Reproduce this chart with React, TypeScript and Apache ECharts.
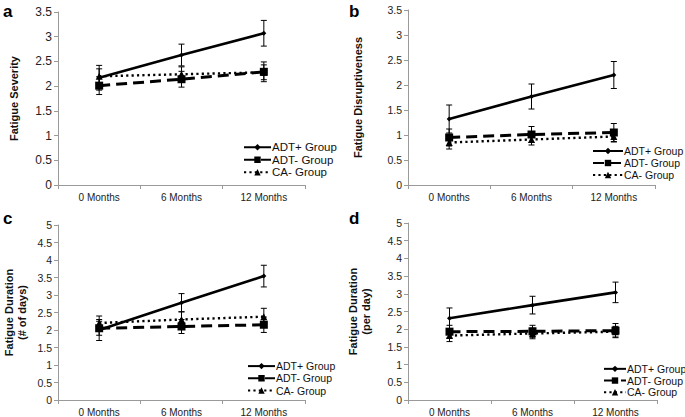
import React, { useEffect, useRef } from "react";
import * as echarts from "echarts";

const categories = ["0 Months", "6 Months", "12 Months"];
const seriesNames = ["ADT+ Group", "ADT- Group", "CA- Group"];

// Panel a: Fatigue Severity
const adtPlusA = [2.17, 2.63, 3.07];
const adtPlusAErr = [0.25, 0.22, 0.26];
const adtMinusA = [2.01, 2.14, 2.29];
const adtMinusAErr = [0.18, 0.16, 0.2];
const caA = [2.2, 2.24, 2.28];
const caAErr = [0.15, 0.15, 0.15];

// Panel b: Fatigue Disruptiveness
const adtPlusB = [1.32, 1.77, 2.2];
const adtPlusBErr = [0.28, 0.25, 0.27];
const adtMinusB = [0.95, 1.01, 1.05];
const adtMinusBErr = [0.17, 0.16, 0.18];
const caB = [0.85, 0.91, 0.97];
const caBErr = [0.13, 0.11, 0.11];

// Panel c: Fatigue Duration (# of days)
const adtPlusC = [2.0, 2.78, 3.54];
const adtPlusCErr = [0.3, 0.26, 0.31];
const adtMinusC = [2.05, 2.1, 2.15];
const adtMinusCErr = [0.2, 0.2, 0.22];
const caC = [2.2, 2.3, 2.38];
const caCErr = [0.2, 0.22, 0.24];

// Panel d: Fatigue Duration (per day)
const adtPlusD = [2.31, 2.68, 3.04];
const adtPlusDErr = [0.29, 0.25, 0.29];
const adtMinusD = [1.93, 1.94, 1.96];
const adtMinusDErr = [0.18, 0.17, 0.2];
const caD = [1.82, 1.88, 1.93];
const caDErr = [0.17, 0.15, 0.15];

const FONT = "'Liberation Sans', Arial, sans-serif";

type Panel = {
  letter: string;
  title: string;
  max: number;
  grid: { left: number; top: number; width: number; height: number };
  nameGap: number;
  tickFont: number;
  lines: number[][];
  errs: number[][];
  legend: { left: number; top: number; itemWidth: number; fontSize: number; lineHeight: number };
  letterPos: [number, number];
};

const panels: Panel[] = [
  {
    letter: "a",
    title: "Fatigue Severity",
    max: 3.5,
    grid: { left: 58, top: 12, width: 247, height: 173 },
    nameGap: 38,
    tickFont: 12,
    lines: [adtPlusA, adtMinusA, caA],
    errs: [adtPlusAErr, adtMinusAErr, caAErr],
    legend: { left: 243, top: 141, itemWidth: 27, fontSize: 11.5, lineHeight: 12.5 },
    letterPos: [3, 3],
  },
  {
    letter: "b",
    title: "Fatigue Disruptiveness",
    max: 3.5,
    grid: { left: 408, top: 10, width: 247, height: 175 },
    nameGap: 44,
    tickFont: 10.5,
    lines: [adtPlusB, adtMinusB, caB],
    errs: [adtPlusBErr, adtMinusBErr, caBErr],
    legend: { left: 592, top: 145, itemWidth: 30, fontSize: 10.5, lineHeight: 12 },
    letterPos: [349, 3],
  },
  {
    letter: "c",
    title: "Fatigue Duration\n(# of days)",
    max: 5,
    grid: { left: 58, top: 225, width: 247, height: 175 },
    nameGap: 30,
    tickFont: 10.5,
    lines: [adtPlusC, adtMinusC, caC],
    errs: [adtPlusCErr, adtMinusCErr, caCErr],
    legend: { left: 247, top: 360, itemWidth: 27, fontSize: 10.5, lineHeight: 12.2 },
    letterPos: [3, 210],
  },
  {
    letter: "d",
    title: "Fatigue Duration\n(per day)",
    max: 5,
    grid: { left: 408, top: 223, width: 249, height: 177 },
    nameGap: 36,
    tickFont: 10.5,
    lines: [adtPlusD, adtMinusD, caD],
    errs: [adtPlusDErr, adtMinusDErr, caDErr],
    legend: { left: 603, top: 363, itemWidth: 22, fontSize: 10.5, lineHeight: 11.7 },
    letterPos: [349, 210],
  },
];

const lineStyles: any[] = [
  { type: "solid", width: 2.6 },
  { type: [11, 6], width: 3 },
  { type: [2.2, 3.2], width: 2.4 },
];
const symbols = ["diamond", "rect", "triangle"];
const symbolSizes = [5, 8, 7];

function errorRender(params: any, api: any) {
  const x = api.value(0);
  const lo = api.value(1);
  const hi = api.value(2);
  const top = api.coord([x, hi]);
  const bot = api.coord([x, lo]);
  const cap = 3;
  const st = { stroke: "#000", lineWidth: 1 };
  return {
    type: "group",
    children: [
      { type: "line", shape: { x1: top[0], y1: top[1], x2: bot[0], y2: bot[1] }, style: st },
      { type: "line", shape: { x1: top[0] - cap, y1: top[1], x2: top[0] + cap, y2: top[1] }, style: st },
      { type: "line", shape: { x1: bot[0] - cap, y1: bot[1], x2: bot[0] + cap, y2: bot[1] }, style: st },
    ],
  };
}

export default function App() {
  const ref = useRef<HTMLDivElement>(null);
  useEffect(() => {
    if (!ref.current) return;
    const chart = echarts.init(ref.current, undefined, { renderer: "svg" });
    const grids: any[] = [];
    const xAxes: any[] = [];
    const yAxes: any[] = [];
    const series: any[] = [];
    const legends: any[] = [];
    const graphics: any[] = [];
    panels.forEach((p, i) => {
      grids.push({ ...p.grid, containLabel: false });
      xAxes.push({
        type: "category",
        gridIndex: i,
        data: categories,
        boundaryGap: true,
        axisLine: { lineStyle: { color: "#9a9a9a", width: 1 } },
        axisTick: { show: true, length: 4, lineStyle: { color: "#9a9a9a" } },
        axisLabel: { fontSize: 10, color: "#222", fontFamily: FONT, margin: 7 },
        splitLine: { show: false },
      });
      yAxes.push({
        type: "value",
        gridIndex: i,
        min: 0,
        max: p.max,
        interval: 0.5,
        axisLine: { show: true, lineStyle: { color: "#9a9a9a", width: 1 } },
        axisTick: { show: true, length: 4, lineStyle: { color: "#9a9a9a" } },
        axisLabel: { fontSize: p.tickFont, color: "#222", fontFamily: FONT, margin: 6 },
        splitLine: { show: false },
        name: p.title,
        nameLocation: "middle",
        nameRotate: 90,
        nameGap: p.nameGap,
        nameTextStyle: {
          fontSize: 11,
          fontWeight: "bold",
          color: "#111",
          fontFamily: FONT,
          lineHeight: 13,
        },
      });
      // error bars first (beneath lines)
      p.errs.forEach((err, k) => {
        const vals = p.lines[k];
        series.push({
          type: "custom",
          name: "err" + i + k,
          xAxisIndex: i,
          yAxisIndex: i,
          renderItem: errorRender,
          data: vals.map((v, j) => [j, v - err[j], v + err[j]]),
          encode: { x: 0, y: [1, 2] },
          z: 1,
          silent: true,
        });
      });
      p.lines.forEach((vals, k) => {
        series.push({
          type: "line",
          name: seriesNames[k],
          xAxisIndex: i,
          yAxisIndex: i,
          data: vals,
          symbol: symbols[k],
          symbolSize: symbolSizes[k],
          showSymbol: true,
          lineStyle: { color: "#000", ...lineStyles[k] },
          itemStyle: { color: "#000" },
          z: 5 - k,
        });
      });
      legends.push({
        orient: "vertical",
        left: p.legend.left,
        top: p.legend.top,
        padding: 0,
        itemGap: 0,
        itemWidth: p.legend.itemWidth,
        itemHeight: 8,
        selectedMode: false,
        data: seriesNames,
        textStyle: {
          fontSize: p.legend.fontSize,
          lineHeight: p.legend.lineHeight,
          color: "#111",
          fontFamily: FONT,
          padding: [0, 0, 0, -4],
        },
      });
      graphics.push({
        type: "text",
        left: p.letterPos[0],
        top: p.letterPos[1],
        style: {
          text: p.letter,
          fontSize: 17,
          fontWeight: "bold",
          fill: "#000",
          fontFamily: FONT,
        },
      });
    });
    chart.setOption({
      animation: false,
      backgroundColor: "#fff",
      grid: grids,
      xAxis: xAxes,
      yAxis: yAxes,
      series,
      legend: legends,
      graphic: graphics,
    });
    return () => chart.dispose();
  }, []);
  return (
    <div
      ref={ref}
      style={{ position: "fixed", left: 0, top: 0, width: 685, height: 417 }}
    />
  );
}
